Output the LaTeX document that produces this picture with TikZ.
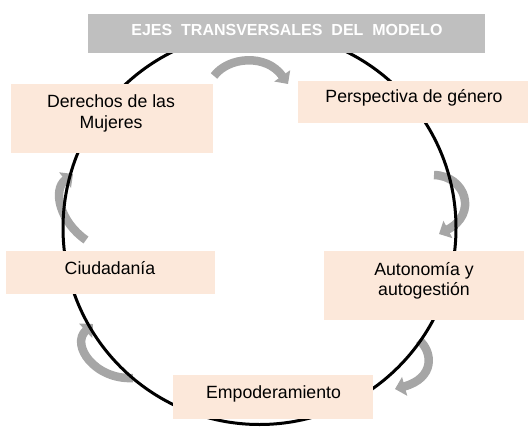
\documentclass[tikz,border=0pt]{standalone}
\usepackage{fontspec}
\setmainfont{Liberation Sans}
\usetikzlibrary{arrows.meta}
\definecolor{boxfill}{HTML}{FCE8DA}
\definecolor{bannerfill}{HTML}{BFBFBF}
\definecolor{arrowgray}{HTML}{A6A6A6}
\begin{document}
\begin{tikzpicture}[x=1pt,y=-1pt,
  box/.style={rectangle, fill=boxfill, inner sep=0pt},
  lbl/.style={font=\fontsize{17.7}{20.5}\selectfont, text=black, inner sep=0pt, anchor=base, align=center},
  cyc/.style={draw=arrowgray, line width=8.5pt, -{Triangle[width=19pt,length=10pt]}},
  ring/.style={line width=3pt, draw=black}]
\useasboundingbox (0,0) rectangle (529,431);

% cycle arrows (named end points)
\coordinate (a1s) at (214,76);  \coordinate (a1e) at (288,84);
\coordinate (a2s) at (434,175); \coordinate (a2e) at (439,234);
\coordinate (a3s) at (419,340); \coordinate (a3e) at (395,389);
\coordinate (a4s) at (133,378); \coordinate (a4e) at (93,324);
\coordinate (a5s) at (86,240);  \coordinate (a5e) at (73,174);
\draw[cyc] (a1s) .. controls (228,57) and (266,53) .. (a1e);
\draw[cyc] (a2s) .. controls (466,176) and (478,214) .. (a2e);
\draw[cyc] (a3s) .. controls (433,352) and (435,378) .. (a3e);
\draw[cyc] (a4s) .. controls (95,380) and (70,345) .. (a4e);
\draw[cyc] (a5s) .. controls (60,222) and (52,190) .. (a5e);

% ring
\coordinate (c) at (259.5,228);
\draw[ring] (c) circle[radius=196.5];

% banner
\node[rectangle, fill=bannerfill, inner sep=0pt, minimum width=397pt, minimum height=39pt] (banner) at (286.5,33.5) {};
\node[anchor=base, inner sep=0pt, text=white, font=\fontsize{16}{19}\selectfont\bfseries] (title) at (287,35) {EJES\ \ TRANSVERSALES\ \ DEL\ \ MODELO};

% boxes
\node[box, minimum width=202pt, minimum height=69pt] (der) at (112,118.5) {};
\node[box, minimum width=230pt, minimum height=42pt] (per) at (413,102) {};
\node[box, minimum width=209pt, minimum height=43pt] (ciu) at (110.5,272.5) {};
\node[box, minimum width=200pt, minimum height=69pt] (aut) at (424,285.5) {};
\node[box, minimum width=200pt, minimum height=44pt] (emp) at (273,397) {};

% labels (base = baseline of the last line)
\node[lbl] (derT) at (111,128.3) {Derechos de las\\Mujeres};
\node[lbl] (perT) at (414,102.7) {Perspectiva de género};
\node[lbl] (ciuT) at (110,274) {Ciudadanía};
\node[lbl] (autT) at (424,295.7) {Autonomía y\\autogestión};
\node[lbl] (empT) at (273.5,398.3) {Empoderamiento};
\end{tikzpicture}
\end{document}
